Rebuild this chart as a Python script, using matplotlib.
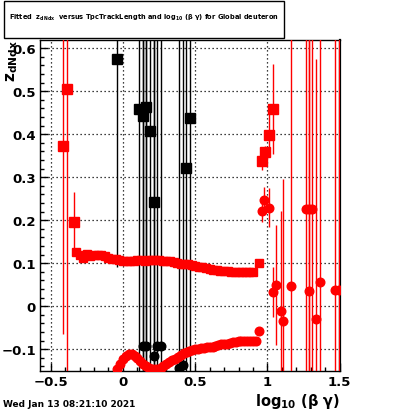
import matplotlib
matplotlib.use("Agg")
import matplotlib.pyplot as plt
from matplotlib.patches import Rectangle
from matplotlib.ticker import MultipleLocator

RED = "#ff0000"
BLACK = "#000000"

# upper band (red squares)
band_x = [-0.325, -0.30, -0.275, -0.25, -0.225, -0.20, -0.175, -0.15, -0.125, -0.10,
          -0.075, -0.05, -0.025, 0.0, 0.025, 0.05, 0.075, 0.10, 0.125, 0.15,
          0.175, 0.20, 0.225, 0.25, 0.275, 0.30, 0.325, 0.35, 0.375, 0.40,
          0.425, 0.45, 0.475, 0.50, 0.525, 0.55, 0.575, 0.60, 0.625, 0.65,
          0.675, 0.70, 0.725, 0.75, 0.775, 0.80, 0.825, 0.85, 0.875, 0.90, 0.94]
band_y = [0.126, 0.118, 0.113, 0.121, 0.116, 0.120, 0.119, 0.118, 0.116, 0.113,
          0.110, 0.109, 0.108, 0.106, 0.105, 0.106, 0.106, 0.107, 0.107, 0.106,
          0.107, 0.107, 0.108, 0.107, 0.106, 0.105, 0.104, 0.103, 0.101, 0.099,
          0.098, 0.097, 0.095, 0.093, 0.091, 0.090, 0.088, 0.086, 0.085, 0.083,
          0.082, 0.081, 0.081, 0.080, 0.079, 0.079, 0.079, 0.080, 0.080, 0.080, 0.100]

# lower curve (red circles)
low_x = [-0.04, -0.02, 0.0, 0.02, 0.04, 0.06, 0.08, 0.10, 0.12, 0.14,
         0.16, 0.18, 0.20, 0.22, 0.24, 0.26, 0.28, 0.30, 0.32, 0.34,
         0.36, 0.38, 0.40, 0.42, 0.44, 0.46, 0.48, 0.50, 0.52, 0.54,
         0.56, 0.58, 0.60, 0.62, 0.64, 0.66, 0.68, 0.70, 0.72, 0.74,
         0.76, 0.78, 0.80, 0.82, 0.84, 0.86, 0.88, 0.90, 0.92, 0.94]
low_y = [-0.146, -0.135, -0.124, -0.116, -0.112, -0.112, -0.115, -0.120, -0.127, -0.134,
         -0.140, -0.144, -0.146, -0.147, -0.146, -0.143, -0.139, -0.135, -0.130, -0.126,
         -0.122, -0.118, -0.114, -0.110, -0.107, -0.104, -0.102, -0.100, -0.099, -0.098,
         -0.097, -0.096, -0.095, -0.094, -0.093, -0.091, -0.089, -0.088, -0.087, -0.085,
         -0.084, -0.083, -0.082, -0.081, -0.081, -0.080, -0.080, -0.081, -0.082, -0.059]

# scattered red squares
rsq_x = [-0.413, -0.385, -0.339, 0.964, 0.985, 1.012, 1.040]
rsq_y = [0.372, 0.505, 0.195, 0.337, 0.358, 0.398, 0.458]
rsq_e = [0.436, 0.900, 0.070, 0.020, 0.015, 0.050, 0.105]

# scattered red circles
rci_x = [0.964, 0.978, 1.012, 1.040, 1.059, 1.091, 1.109, 1.163, 1.264, 1.289,
         1.289, 1.310, 1.338, 1.366, 1.467, 1.493]
rci_y = [0.222, 0.248, 0.229, 0.033, 0.049, -0.011, -0.035, 0.046, 0.226, 0.226,
         0.035, 0.226, -0.030, 0.056, 0.038, 0.038]
rci_e = [0.026, 0.030, 0.045, 0.058, 0.140, 0.233, 0.331, 0.900, 0.900, 0.900,
         0.900, 0.900, 0.605, 0.900, 0.900, 0.900]

# black squares
bsq_x = [-0.039, 0.113, 0.138, 0.161, 0.189, 0.212, 0.438, 0.464]
bsq_y = [0.574, 0.458, 0.442, 0.463, 0.407, 0.242, 0.321, 0.437]
bsq_e = [0.483, 0.900, 0.900, 0.900, 0.900, 0.900, 0.900, 0.900]

# black circles
bci_x = [0.138, 0.161, 0.212, 0.237, 0.265, 0.390, 0.413]
bci_y = [-0.092, -0.092, -0.115, -0.092, -0.092, -0.145, -0.138]
bci_e = [0.900, 0.900, 0.900, 0.900, 0.900, 0.900, 0.900]

fig = plt.figure(figsize=(4.0, 4.14), dpi=100, facecolor="white")
ax = fig.add_axes([0.1, 0.1014, 0.75, 0.7995])

ax.set_xlim(-0.574, 1.502)
ax.set_ylim(-0.151, 0.619)

grid_style = dict(color=BLACK, lw=0.9, ls=(0, (1, 2.2)), zorder=1)
for gx in [-0.5, 0.0, 0.5, 1.0, 1.5]:
    ax.axvline(gx, **grid_style)
for gy in [-0.1, 0.0, 0.1, 0.2, 0.3, 0.4, 0.5, 0.6]:
    ax.axhline(gy, **grid_style)

ax.errorbar(bsq_x, bsq_y, yerr=bsq_e, fmt="s", color=BLACK, ms=6.5, elinewidth=1.0,
            capsize=0, zorder=3)
ax.errorbar(bci_x, bci_y, yerr=bci_e, fmt="o", color=BLACK, ms=6.2, elinewidth=1.0,
            capsize=0, zorder=3)
ax.errorbar(band_x, band_y, yerr=0.004, fmt="s", color=RED, ms=5.8, elinewidth=1.0,
            capsize=0, zorder=4)
ax.errorbar(low_x, low_y, yerr=0.003, fmt="o", color=RED, ms=6.2, elinewidth=1.0,
            capsize=0, zorder=4)
ax.errorbar(rsq_x, rsq_y, yerr=rsq_e, fmt="s", color=RED, ms=6.5, elinewidth=1.0,
            capsize=0, zorder=4)
ax.errorbar(rci_x, rci_y, yerr=rci_e, fmt="o", color=RED, ms=6.2, elinewidth=1.0,
            capsize=0, zorder=4)

ax.xaxis.set_major_locator(MultipleLocator(0.5))
ax.xaxis.set_minor_locator(MultipleLocator(0.1))
ax.yaxis.set_major_locator(MultipleLocator(0.1))
ax.yaxis.set_minor_locator(MultipleLocator(0.02))
ax.tick_params(which="both", direction="in", top=False, right=False, width=1.0)
ax.tick_params(which="major", length=6, pad=3)
ax.tick_params(which="minor", length=3)
ax.xaxis.set_major_formatter(plt.FuncFormatter(lambda v, _: f"{v:g}".replace("-", "\u2212")))
ax.yaxis.set_major_formatter(plt.FuncFormatter(lambda v, _: f"{v:g}".replace("-", "\u2212")))
for lab in ax.get_xticklabels() + ax.get_yticklabels():
    lab.set_fontweight("bold")
    lab.set_fontsize(9.5)
for sp in ax.spines.values():
    sp.set_linewidth(1.0)
ax.spines["right"].set_linewidth(1.6)

plt.rcParams["mathtext.fontset"] = "dejavusans"

# title box
fig.patches.append(Rectangle((4 / 400, 1 - 39 / 414), 280 / 400, 37 / 414,
                             transform=fig.transFigure, facecolor="white",
                             edgecolor=BLACK, lw=1.0, zorder=5))
fig.text(144 / 400, 1 - 18 / 414,
         r"Fitted  $\mathbf{z_{dNdx}}$  versus TpcTrackLength and $\mathbf{log_{10}}$ (β γ) for Global deuteron",
         ha="center", va="center", fontsize=4.8, fontweight="bold", zorder=6)

fig.text(12 / 400, 1 - 40 / 414, r"$\mathbf{z_{dNdx}}$", rotation=90,
         ha="center", va="top", fontsize=11)
fig.text(340 / 400, 1 - 402 / 414, r"$\mathbf{log_{10}}$ (β γ)", ha="right",
         va="center", fontsize=10.5, fontweight="bold")
fig.text(3 / 400, 1 - 405 / 414, "Wed Jan 13 08:21:10 2021", ha="left",
         va="center", fontsize=6.5, fontweight="bold")

fig.savefig("out.png", dpi=100, facecolor="white")
